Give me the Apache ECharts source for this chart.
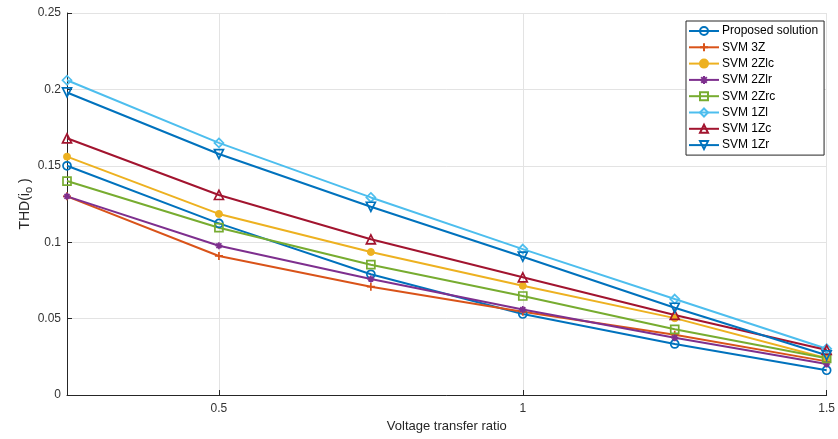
<!DOCTYPE html>
<html><head><meta charset="utf-8">
<script src="https://cdn.jsdelivr.net/npm/echarts@6/dist/echarts.min.js"></script>
<style>html,body{margin:0;padding:0;background:#fff}#c{width:838px;height:439px}</style>
</head><body><div id="c"></div>
<script>
const xValues = [0.25, 0.5, 0.75, 1.0, 1.25, 1.5];
const xTickLabels = [0.5, 1, 1.5];
const yTicks = [0, 0.05, 0.1, 0.15, 0.2, 0.25];
const seriesNames = ['Proposed solution','SVM 3Z','SVM 2Zlc','SVM 2Zlr','SVM 2Zrc','SVM 1Zl','SVM 1Zc','SVM 1Zr'];
const proposed = [0.150, 0.1123, 0.079, 0.053, 0.0334, 0.0162];
const svm3Z    = [0.130, 0.091, 0.0709, 0.0545, 0.0395, 0.022];
const svm2Zlc  = [0.156, 0.1185, 0.0936, 0.0715, 0.0503, 0.024];
const svm2Zlr  = [0.130, 0.0977, 0.0759, 0.056, 0.0375, 0.0203];
const svm2Zrc  = [0.140, 0.1095, 0.0853, 0.0648, 0.043, 0.024];
const svm1Zl   = [0.206, 0.165, 0.1293, 0.0955, 0.0628, 0.0303];
const svm1Zc   = [0.168, 0.1309, 0.1019, 0.077, 0.0524, 0.0295];
const svm1Zr   = [0.198, 0.1577, 0.1232, 0.0905, 0.0571, 0.026];
const allData = [proposed, svm3Z, svm2Zlc, svm2Zlr, svm2Zrc, svm1Zl, svm1Zc, svm1Zr];

const colors = ['#0072BD','#D95319','#EDB120','#7E2F8E','#77AC30','#4DBEEE','#A2142F','#0072BD'];
const symbols = [
  'circle',
  'path://M5,0L5,10M0,5L10,5',
  'circle',
  'path://M5,0L5,10M0,5L10,5M1.5,1.5L8.5,8.5M1.5,8.5L8.5,1.5',
  'rect',
  'path://M5,0L10,5L5,10L0,5Z',
  'triangle',
  'path://M0,0L10,0L5,8.7Z'
];
const sizes = [8, 8, 7, 7, 8, 9, 9, 9];
const filled = [false, false, true, false, false, false, false, false];

const series = seriesNames.map((name, i) => ({
  name: name,
  type: 'line',
  data: xValues.map((x, j) => [x, allData[i][j]]),
  symbol: symbols[i],
  symbolSize: sizes[i],
  showAllSymbol: true,
  lineStyle: { color: colors[i], width: 2 },
  itemStyle: filled[i]
    ? { color: colors[i], borderColor: colors[i], borderWidth: 1 }
    : { color: 'rgba(255,255,255,0)', borderColor: colors[i], borderWidth: 1.7 },
  emphasis: { disabled: true },
  animation: false
}));

const chart = echarts.init(document.getElementById('c'), null, { renderer: 'canvas' });
chart.setOption({
  animation: false,
  backgroundColor: '#fff',
  textStyle: { fontFamily: 'Liberation Sans, Arial, sans-serif' },
  grid: { left: 67, right: 4, top: 13, bottom: 44, containLabel: false },
  legend: {
    orient: 'vertical',
    left: 686, top: 21,
    width: 138,
    padding: [4, 6, 4, 2],
    itemWidth: 30, itemHeight: 10, itemGap: 4.3,
    borderColor: '#262626', borderWidth: 1, backgroundColor: '#fff',
    textStyle: { fontSize: 12, lineHeight: 12, color: '#000', fontFamily: 'Liberation Sans, Arial, sans-serif', padding: [0, 0, 0, -2] },
    data: seriesNames
  },
  xAxis: {
    type: 'value', min: 0.25, max: 1.5,
    name: 'Voltage transfer ratio', nameLocation: 'middle', nameGap: 25,
    nameMoveOverlap: false,
    nameTextStyle: { fontSize: 13, color: '#262626' },
    axisLine: { show: true, onZero: false, lineStyle: { color: '#262626', width: 1 } },
    axisTick: { show: true, inside: true, length: 5, customValues: xTickLabels, lineStyle: { color: '#262626' } },
    axisLabel: { customValues: xTickLabels, fontSize: 12, color: '#333', margin: 8,
      formatter: v => String(v) },
    splitLine: { show: true, lineStyle: { color: '#e3e3e3', width: 1 } }
  },
  yAxis: {
    type: 'value', min: 0, max: 0.25, interval: 0.05,
    name: 'THD(i{sub|o} )', nameLocation: 'middle', nameGap: 33, nameRotate: 90,
    nameMoveOverlap: false,
    nameTextStyle: { fontSize: 14, color: '#262626', rich: { sub: { fontSize: 11, color: '#262626', verticalAlign: 'bottom', padding: [7, 0, 0, 0] } } },
    axisLine: { show: true, lineStyle: { color: '#262626', width: 1 } },
    axisTick: { show: true, inside: true, length: 5, lineStyle: { color: '#262626' } },
    axisLabel: { fontSize: 12, color: '#333', margin: 6,
      formatter: v => { const t = yTicks.find(a => Math.abs(a - v) < 1e-9); return t === undefined ? '' : String(t); } },
    splitLine: { show: true, lineStyle: { color: '#e3e3e3', width: 1 } }
  },
  series: series
});
</script></body></html>
